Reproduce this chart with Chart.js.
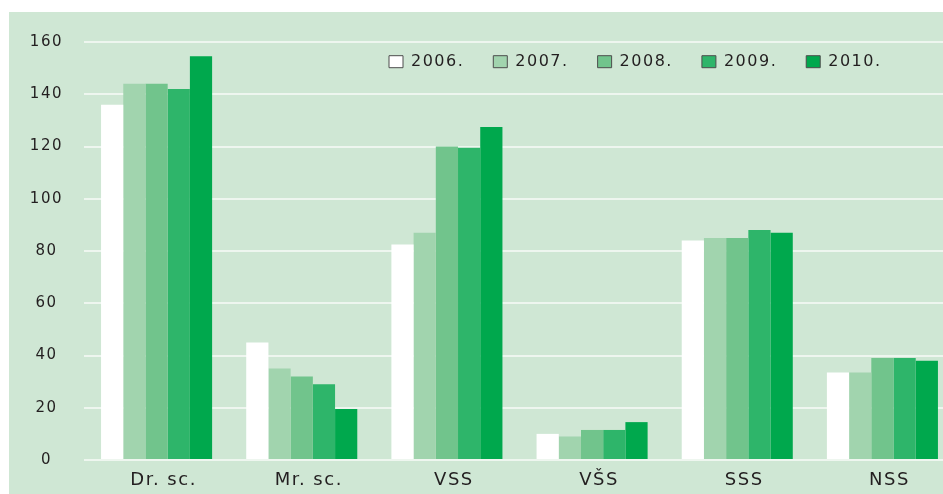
<!DOCTYPE html>
<html>
<head>
<meta charset="utf-8">
<script src="https://cdn.jsdelivr.net/npm/chart.js@4.4.1/dist/chart.umd.min.js"></script>
<style>
  html, body { margin: 0; padding: 0; background: #fff; overflow: hidden; }
  #panel { position: absolute; left: 9px; top: 12px; width: 934px; height: 482px; overflow: hidden; background: #cfe7d4; }
  canvas { display: block; }
</style>
</head>
<body>
<div id="panel"><canvas id="eduChart" width="950" height="482"></canvas></div>
<script>
// categories and series
const categories = ['Dr. sc.', 'Mr. sc.', 'VSS', 'VŠS', 'SSS', 'NSS'];
const years = ['2006.', '2007.', '2008.', '2009.', '2010.'];
const values2006 = [136, 45, 82.5, 10, 84, 33.5];
const values2007 = [144, 35, 87, 9, 85, 33.5];
const values2008 = [144, 32, 120, 11.5, 85, 39];
const values2009 = [142, 29, 119.5, 11.5, 88, 39];
const values2010 = [154.5, 19.5, 127.5, 14.5, 87, 38];
const yMin = 0, yMax = 160, yStep = 20;

const seriesValues = [values2006, values2007, values2008, values2009, values2010];
const barColors = ['#ffffff', '#a1d4ae', '#71c48c', '#2eb56a', '#00a84d'];
const textColor = '#231f20';
const gridColor = '#eef6ef';

// wide lettering like the original typeface
const letterSpacing = {
    id: 'letterSpacing',
    beforeUpdate(chart) { chart.ctx.letterSpacing = '1.5px'; },
    beforeDraw(chart) { chart.ctx.letterSpacing = '1.5px'; }
};

// legend sits inside the plot, top right
const legendPlacer = {
    id: 'legendPlacer',
    afterLayout(chart) {
        const lg = chart.legend;
        if (!lg) return;
        const p = lg.options.labels.padding;
        const fs = lg.options.labels.font.size;
        const bh = lg.options.labels.boxHeight;
        lg.left = 380 - p;
        lg.right = chart.width;
        lg.width = lg.right - lg.left;
        lg.top = 49.7 - p - Math.max(fs, bh) / 2;
        lg.bottom = lg.top + 2 * p + Math.max(fs, bh);
        lg.height = lg.bottom - lg.top;
    }
};

const ctx = document.getElementById('eduChart');
new Chart(ctx, {
    type: 'bar',
    data: {
        labels: categories,
        datasets: years.map((y, i) => ({
            label: y,
            data: seriesValues[i],
            backgroundColor: barColors[i],
            borderWidth: 0,
            barPercentage: 1,
            categoryPercentage: 0.765
        }))
    },
    options: {
        responsive: false,
        animation: false,
        devicePixelRatio: 1,
        layout: { padding: { top: 29, right: 4, left: 0, bottom: 0 } },
        scales: {
            x: {
                grid: { display: false },
                border: { display: false },
                afterFit(scale) { scale.height = 34; },
                ticks: {
                    color: textColor,
                    labelOffset: 7,
                    padding: 2,
                    font: { family: '"DejaVu Sans"', size: 18 }
                }
            },
            y: {
                min: yMin,
                max: yMax,
                afterFit(scale) { scale.width = 75; },
                grid: { color: gridColor, lineWidth: 2, drawTicks: false },
                border: { display: false },
                ticks: {
                    stepSize: yStep,
                    color: textColor,
                    crossAlign: 'center',
                    padding: 21,
                    font: { family: '"DejaVu Sans"', size: 15 }
                }
            }
        },
        plugins: {
            tooltip: { enabled: false },
            legend: {
                position: 'top',
                fullSize: false,
                maxHeight: 1,
                align: 'start',
                labels: {
                    color: textColor,
                    boxWidth: 14,
                    boxHeight: 12,
                    padding: 29,
                    font: { family: '"DejaVu Sans"', size: 16 },
                    generateLabels(chart) {
                        return Chart.defaults.plugins.legend.labels.generateLabels(chart).map(l => {
                            l.strokeStyle = '#4d4d4d';
                            l.lineWidth = 1;
                            return l;
                        });
                    }
                }
            }
        }
    },
    plugins: [letterSpacing, legendPlacer]
});
</script>
</body>
</html>
